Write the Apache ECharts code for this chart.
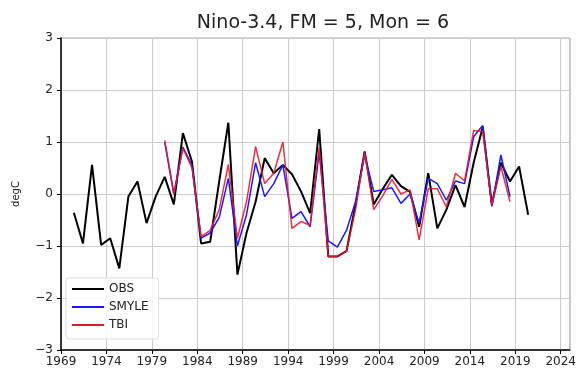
<!DOCTYPE html>
<html>
<head>
<meta charset="utf-8">
<script src="https://cdn.jsdelivr.net/npm/echarts@6/dist/echarts.min.js"></script>
<style>html,body{margin:0;padding:0;background:#fff}#c{width:579px;height:371px}</style>
</head>
<body>
<div id="c"></div>
<script>
const baseYear = 1969;
const xTicks = [1969, 1974, 1979, 1984, 1989, 1994, 1999, 2004, 2009, 2014, 2019, 2024];
const yTicks = [-3, -2, -1, 0, 1, 2, 3];
const obsYears = [1970,1971,1972,1973,1974,1975,1976,1977,1978,1979,1980,1981,1982,1983,1984,1985,1986,1987,1988,1989,1990,1991,1992,1993,1994,1995,1996,1997,1998,1999,2000,2001,2002,2003,2004,2005,2006,2007,2008,2009,2010,2011,2012,2013,2014,2015,2016,2017,2018,2019,2020];
const obs = [-0.36,-0.95,0.56,-0.98,-0.85,-1.43,-0.05,0.24,-0.56,-0.05,0.33,-0.2,1.17,0.62,-0.95,-0.92,0.25,1.37,-1.55,-0.75,-0.15,0.69,0.4,0.56,0.38,0.05,-0.37,1.25,-1.2,-1.2,-1.1,-0.2,0.82,-0.2,0.1,0.37,0.15,0.04,-0.63,0.4,-0.66,-0.3,0.17,-0.25,0.6,1.29,-0.2,0.6,0.24,0.53,-0.4];
const fcstYears = [1980,1981,1982,1983,1984,1985,1986,1987,1988,1989,1990,1991,1992,1993,1994,1995,1996,1997,1998,1999,2000,2001,2002,2003,2004,2005,2006,2007,2008,2009,2010,2011,2012,2013,2014,2015,2016,2017,2018];
const smyle = [1.0,0.0,0.9,0.55,-0.85,-0.75,-0.45,0.3,-1.0,-0.4,0.6,-0.05,0.2,0.56,-0.47,-0.34,-0.63,0.8,-0.9,-1.02,-0.7,-0.15,0.75,0.05,0.08,0.12,-0.18,0.0,-0.56,0.3,0.2,-0.12,0.25,0.2,1.1,1.32,-0.24,0.75,-0.05];
const tbi = [1.03,0.0,0.88,0.5,-0.82,-0.7,-0.3,0.57,-0.85,-0.15,0.91,0.2,0.4,1.0,-0.66,-0.53,-0.6,0.9,-1.2,-1.2,-1.1,-0.3,0.8,-0.3,-0.03,0.28,0.0,0.08,-0.88,0.1,0.1,-0.25,0.4,0.25,1.22,1.2,-0.22,0.53,-0.15];
const xOffset = 5 / 12;

function pairs(years, vals) {
  return years.map((y, i) => [y - baseYear + xOffset, vals[i]]);
}
const fmtY = v => (v < 0 ? '\u2212' + Math.abs(v) : String(v));
const font = 'DejaVu Sans';
const chart = echarts.init(document.getElementById('c'), null, {renderer: 'canvas'});
chart.setOption({
  animation: false,
  backgroundColor: '#fff',
  title: {
    text: 'Nino-3.4, FM = 5, Mon = 6',
    left: 318, top: 9, textAlign: 'center',
    textStyle: {fontFamily: font, fontSize: 19, fontWeight: 'normal', color: '#222'}
  },
  grid: {left: 61, right: 7, top: 38, bottom: 21, show: true, borderColor: '#aaa', borderWidth: 1},
  legend: {
    orient: 'vertical', left: 66, top: 278,
    padding: [5, 10, 8, 6], itemGap: 6, itemWidth: 32, itemHeight: 2,
    icon: 'rect',
    borderColor: '#ddd', borderWidth: 1, borderRadius: 3, backgroundColor: 'rgba(255,255,255,0.85)',
    textStyle: {fontFamily: font, fontSize: 12, color: '#222'},
    data: ['OBS', 'SMYLE', 'TBI']
  },
  xAxis: {
    type: 'value', min: 0, max: 56, interval: 5,
    axisLine: {show: true, onZero: false, lineStyle: {color: '#000', width: 1.5}},
    axisTick: {show: true, length: 4, lineStyle: {color: '#000'}},
    axisLabel: {fontFamily: font, fontSize: 12, color: '#222', margin: 6,
      formatter: v => String(xTicks[Math.round(v / 5)] !== undefined ? xTicks[Math.round(v / 5)] : baseYear + v),
      showMaxLabel: false},
    splitLine: {show: true, lineStyle: {color: '#ccc', width: 1}}
  },
  yAxis: {
    type: 'value', min: yTicks[0], max: yTicks[yTicks.length - 1], interval: 1,
    name: 'degC', nameLocation: 'middle', nameGap: 40,
    nameTextStyle: {fontFamily: font, fontSize: 10, color: '#222'},
    axisLine: {show: true, onZero: false, lineStyle: {color: '#000', width: 1.5}},
    axisTick: {show: true, length: 4, lineStyle: {color: '#000'}},
    axisLabel: {fontFamily: font, fontSize: 12, color: '#222', margin: 8, formatter: fmtY},
    splitLine: {show: true, lineStyle: {color: '#ccc', width: 1}}
  },
  series: [
    {name: 'OBS', type: 'line', data: pairs(obsYears, obs), symbol: 'none', color: '#000',
     lineStyle: {width: 2, color: '#000'}, z: 2},
    {name: 'SMYLE', type: 'line', data: pairs(fcstYears, smyle), symbol: 'none', color: '#1a1aff',
     lineStyle: {width: 1.5, color: '#1a1aff'}, z: 3},
    {name: 'TBI', type: 'line', data: pairs(fcstYears, tbi), symbol: 'none', color: '#e8192c',
     lineStyle: {width: 1.5, color: '#e8192c', opacity: 0.9}, z: 4}
  ]
});
</script>
</body>
</html>
